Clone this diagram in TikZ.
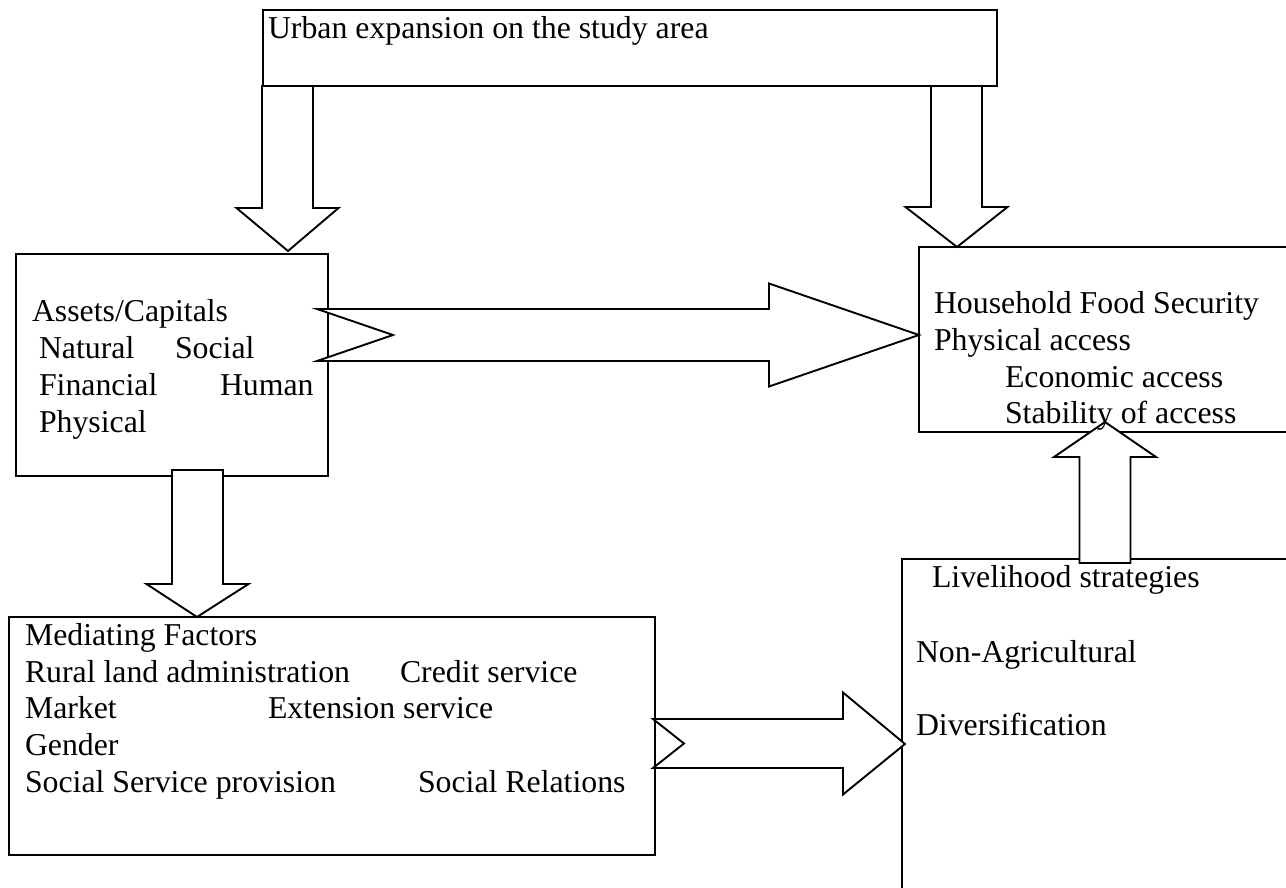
\documentclass[tikz,border=0pt]{standalone}
\usepackage{fontspec}
\setmainfont{Liberation Serif}
\usetikzlibrary{calc}
\newcommand{\blkdown}[5]{%
  \coordinate (hb) at (#2 -| #1);
  \draw[blk] ($(#1)+(-#3,0)$) -- ($(hb)+(-#3,-#5)$) -- ($(hb)+(-#4,-#5)$) -- (#2)
    -- ($(hb)+(#4,-#5)$) -- ($(hb)+(#3,-#5)$) -- ($(#1)+(#3,0)$) -- cycle;}
\newcommand{\blkup}[5]{%
  \coordinate (hb) at (#2 -| #1);
  \draw[blk] ($(#1)+(-#3,0)$) -- ($(hb)+(-#3,#5)$) -- ($(hb)+(-#4,#5)$) -- (#2)
    -- ($(hb)+(#4,#5)$) -- ($(hb)+(#3,#5)$) -- ($(#1)+(#3,0)$) -- cycle;}
\newcommand{\blkright}[6]{%
  \coordinate (hb) at (#2 |- #1);
  \draw[blk] ($(#1)+(0,-#3)$) -- ($(hb)+(-#5,-#3)$) -- ($(hb)+(-#5,-#4)$) -- (#2)
    -- ($(hb)+(-#5,#4)$) -- ($(hb)+(-#5,#3)$) -- ($(#1)+(0,#3)$) -- ($(#1)+(#6,0)$) -- cycle;}
\begin{document}
\begin{tikzpicture}[x=1pt,y=-1pt,
  boxline/.style={line width=2.6pt},
  box/.style={draw, boxline, rectangle, inner sep=0pt, outer sep=0pt, anchor=north west},
  lbl/.style={inner sep=0pt, outer sep=0pt, anchor=base west, font=\fontsize{31.8pt}{37pt}\selectfont},
  blk/.style={draw, line width=1.9pt, fill=white, line join=miter}]
\useasboundingbox[fill=white] (0,0) rectangle (1286,888);

% boxes
\node[box, minimum width=734pt, minimum height=76pt] (urban) at (263,10) {};
\node[box, minimum width=312pt, minimum height=222pt] (assets) at (16,254) {};
\node[box, minimum width=646pt, minimum height=238pt] (med) at (9,617) {};
\coordinate (hfsnw) at (919,247);
\coordinate (hfssw) at (919,432);
\draw[boxline] (1286,247) -- (hfsnw) -- (hfssw) -- (1286,432);
\coordinate (livnw) at (902,559);
\draw[boxline] (1286,559) -- (livnw) -- (902,888);

% arrow end points
\coordinate (a1s) at ($(urban.south west)+(24.5,0)$);
\coordinate (a1t) at ($(assets.north west)+(272,-3)$);
\coordinate (a2s) at ($(urban.south east)+(-40.5,0)$);
\coordinate (a2t) at ($(hfsnw)+(38,0)$);
\coordinate (a3s) at ($(assets.north east)+(-11,81)$);
\coordinate (a3t) at ($(hfsnw)+(0,88)$);
\coordinate (a4s) at ($(assets.south west)+(181.5,-6)$);
\coordinate (a4t) at ($(med.north west)+(188,0)$);
\coordinate (a5s) at ($(med.north east)+(-2,126.5)$);
\coordinate (a5t) at ($(livnw)+(3,185)$);
\coordinate (a6s) at ($(livnw)+(203,4)$);
\coordinate (a6t) at ($(hfssw)+(186,-10)$);

% block arrows
\blkdown{a1s}{a1t}{25.5}{51}{43}
\blkdown{a2s}{a2t}{25.5}{51}{40}
\blkright{a3s}{a3t}{26}{51.5}{150}{76}
\blkdown{a4s}{a4t}{25.5}{51}{33}
\blkright{a5s}{a5t}{24.5}{51}{62}{31}
\blkup{a6s}{a6t}{25.5}{51}{35}

% texts
\node[lbl] (t0) at (268,39) {Urban expansion on the study area};

\node[lbl] (t1) at (32,321) {Assets/Capitals};
\node[lbl] (t2) at (39,358) {Natural};
\node[lbl] (t3) at (175,358) {Social};
\node[lbl] (t4) at (39,395) {Financial};
\node[lbl] (t5) at (220,395) {Human};
\node[lbl] (t6) at (39,432) {Physical};

\node[lbl] (h1) at (934,313) {Household Food Security};
\node[lbl] (h2) at (934,350) {Physical access};
\node[lbl] (h3) at (1005,387) {Economic access};
\node[lbl] (h4) at (1005,423) {Stability of access};

\node[lbl] (m1) at (25,645) {Mediating Factors};
\node[lbl] (m2) at (25,682) {Rural land administration};
\node[lbl] (m3) at (400,682) {Credit service};
\node[lbl] (m4) at (25,718) {Market};
\node[lbl] (m5) at (268,718) {Extension service};
\node[lbl] (m6) at (25,755) {Gender};
\node[lbl] (m7) at (25,792) {Social Service provision};
\node[lbl] (m8) at (418,792) {Social Relations};

\node[lbl] (l1) at (932,587) {Livelihood strategies};
\node[lbl] (l2) at (916,662) {Non-Agricultural};
\node[lbl] (l3) at (916,735) {Diversification};
\end{tikzpicture}
\end{document}
